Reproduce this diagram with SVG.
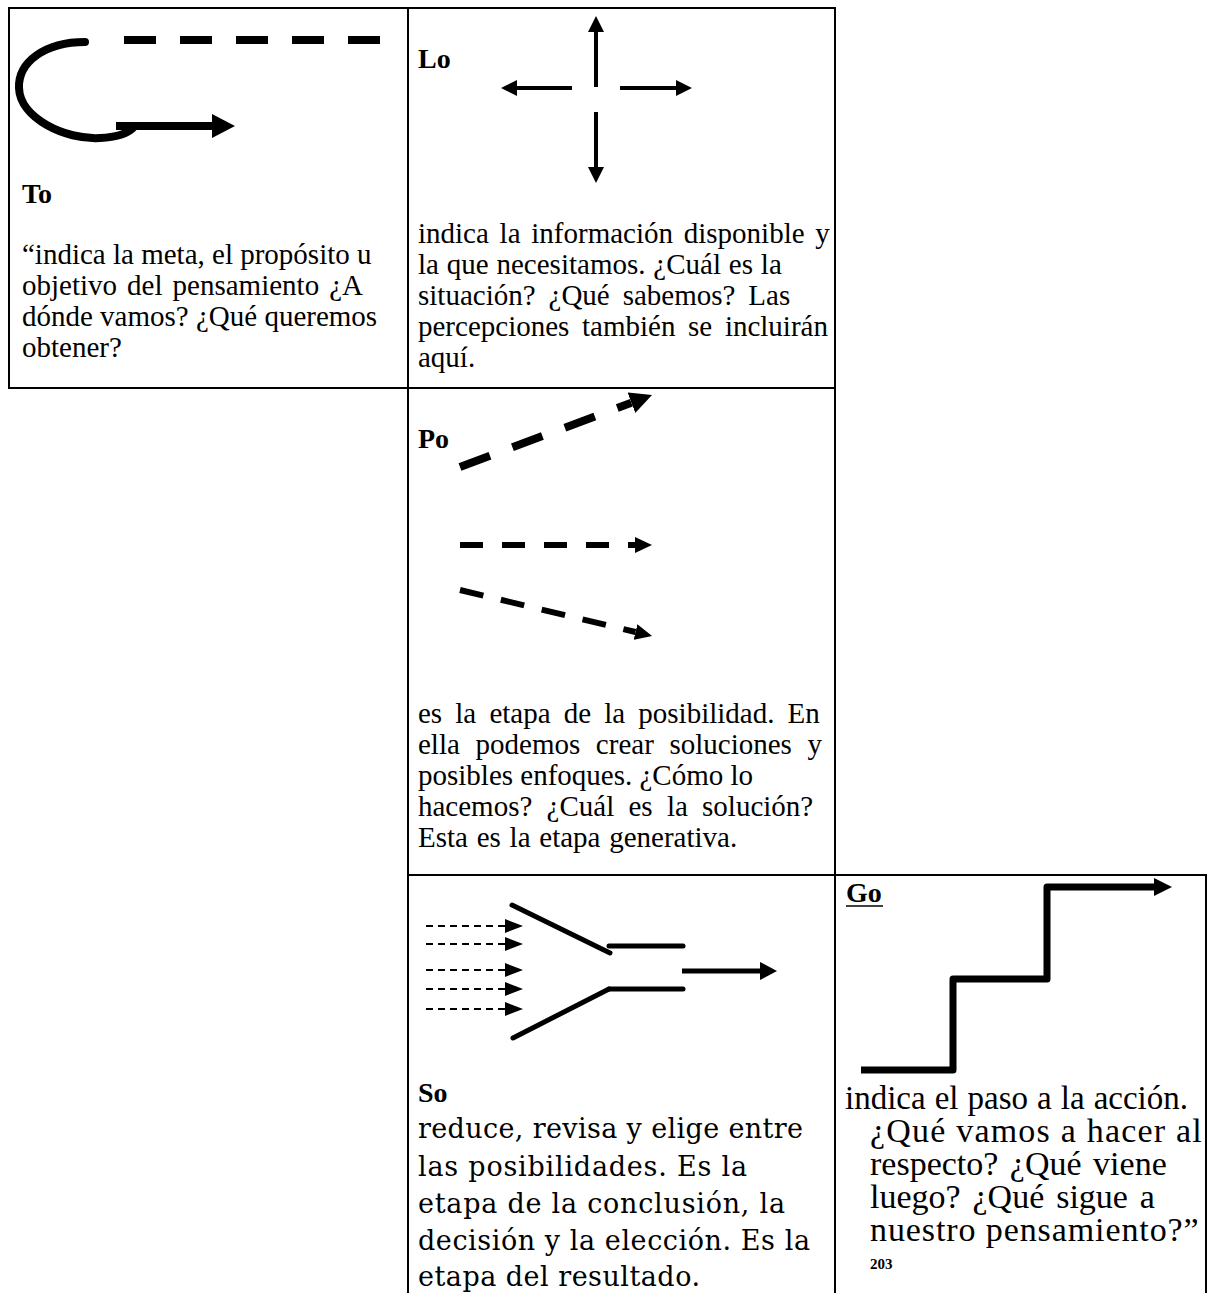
<svg xmlns="http://www.w3.org/2000/svg" width="1207" height="1293" viewBox="0 0 1207 1293">
<style>
.cell{fill:#fff;stroke:#000;stroke-width:2}
.t{font-family:"Liberation Serif","Times New Roman",serif;font-size:29px;fill:#000}
.h{font-family:"Liberation Serif","Times New Roman",serif;font-size:28px;font-weight:bold;fill:#000}
.g{font-family:"Liberation Serif","Times New Roman",serif;font-size:34px;fill:#000}
.s{font-family:"DejaVu Serif",serif;font-size:27px;fill:#000}
.ln{fill:none;stroke:#000}
</style>
<defs>
<marker id="mTo" markerUnits="userSpaceOnUse" viewBox="0 -12 23 24" refX="0" refY="0" markerWidth="23" markerHeight="24" orient="auto"><path d="M0,-12 L23,0 L0,12 Z"/></marker>
<marker id="mLo" markerUnits="userSpaceOnUse" viewBox="0 -8 16 16" refX="0" refY="0" markerWidth="16" markerHeight="16" orient="auto"><path d="M0,-8 L16,0 L0,8 Z"/></marker>
<marker id="mPo1" markerUnits="userSpaceOnUse" viewBox="0 -11 22 22" refX="0" refY="0" markerWidth="22" markerHeight="22" orient="auto"><path d="M0,-11 L22,0 L0,11 Z"/></marker>
<marker id="mPo2" markerUnits="userSpaceOnUse" viewBox="0 -8 17 16" refX="0" refY="0" markerWidth="17" markerHeight="16" orient="auto"><path d="M0,-8 L17,0 L0,8 Z"/></marker>
<marker id="mSo" markerUnits="userSpaceOnUse" viewBox="0 -7 18 14" refX="0" refY="0" markerWidth="18" markerHeight="14" orient="auto"><path d="M0,-7 L18,0 L0,7 Z"/></marker>
<marker id="mSo2" markerUnits="userSpaceOnUse" viewBox="0 -9 17 18" refX="0" refY="0" markerWidth="17" markerHeight="18" orient="auto"><path d="M0,-9 L17,0 L0,9 Z"/></marker>
<marker id="mGo" markerUnits="userSpaceOnUse" viewBox="0 -9 18 18" refX="0" refY="0" markerWidth="18" markerHeight="18" orient="auto"><path d="M0,-9 L18,0 L0,9 Z"/></marker>
</defs>
<rect x="0" y="0" width="1207" height="1293" fill="#fff"/>

<g id="cell-to">
<rect class="cell" x="9" y="8" width="399" height="380"/>
<path class="ln" d="M124,40 H380" stroke-width="8" stroke-dasharray="32 24"/>
<path class="ln" d="M85,42 C45,42 18,62 19,88 C20,118 65,140 100,138 C118,137 128,133 133,128" stroke-width="8" stroke-linecap="round"/>
<path class="ln" d="M116,126 H212" stroke-width="8" marker-end="url(#mTo)"/>
<text class="h" x="22" y="203">To</text>
<text class="t" x="22" y="264">“indica la meta, el propósito u</text>
<text class="t" x="22" y="295" style="word-spacing:2.8px">objetivo del pensamiento ¿A</text>
<text class="t" x="22" y="326">dónde vamos? ¿Qué queremos</text>
<text class="t" x="22" y="357">obtener?</text>
</g>

<g id="cell-lo">
<rect class="cell" x="408" y="8" width="427" height="380"/>
<path class="ln" d="M596,87 V32" stroke-width="4" marker-end="url(#mLo)"/>
<path class="ln" d="M596,112 V167" stroke-width="4" marker-end="url(#mLo)"/>
<path class="ln" d="M572,88 H517" stroke-width="4" marker-end="url(#mLo)"/>
<path class="ln" d="M620,88 H676" stroke-width="4" marker-end="url(#mLo)"/>
<text class="h" x="418" y="68">Lo</text>
<text class="t" x="418" y="243" style="word-spacing:3.5px">indica la información disponible y</text>
<text class="t" x="418" y="274" style="word-spacing:0.6px">la que necesitamos. ¿Cuál es la</text>
<text class="t" x="418" y="305" style="word-spacing:5.7px">situación? ¿Qué sabemos? Las</text>
<text class="t" x="418" y="336" style="word-spacing:5.4px">percepciones también se incluirán</text>
<text class="t" x="418" y="367">aquí.</text>
</g>

<g id="cell-po">
<rect class="cell" x="408" y="388" width="427" height="487"/>
<path class="ln" d="M460,467 L631.4,402.7" stroke-width="8" stroke-dasharray="32 24" marker-end="url(#mPo1)"/>
<path class="ln" d="M460,545 H635" stroke-width="6" stroke-dasharray="23 19" marker-end="url(#mPo2)"/>
<path class="ln" d="M460,590 L635.5,632" stroke-width="6" stroke-dasharray="24 18" marker-end="url(#mPo2)"/>
<text class="h" x="418" y="448">Po</text>
<text class="t" x="418" y="723" style="word-spacing:5.9px">es la etapa de la posibilidad. En</text>
<text class="t" x="418" y="754" style="word-spacing:8.4px">ella podemos crear soluciones y</text>
<text class="t" x="418" y="785">posibles enfoques. ¿Cómo lo</text>
<text class="t" x="418" y="816" style="word-spacing:7px">hacemos? ¿Cuál es la solución?</text>
<text class="t" x="418" y="847" style="word-spacing:1.5px">Esta es la etapa generativa.</text>
</g>

<g id="cell-so">
<rect class="cell" x="408" y="875" width="427" height="430"/>
<g class="ln" stroke-width="2" stroke-dasharray="7 5">
<path d="M426,926 H505" marker-end="url(#mSo)"/>
<path d="M426,944 H505" marker-end="url(#mSo)"/>
<path d="M426,970 H505" marker-end="url(#mSo)"/>
<path d="M426,989 H505" marker-end="url(#mSo)"/>
<path d="M426,1009 H505" marker-end="url(#mSo)"/>
</g>
<g class="ln" stroke-width="5" stroke-linecap="round">
<path d="M512,905 L610,953"/>
<path d="M609,946 H683"/>
<path d="M609,989 H683"/>
<path d="M609,989 L513,1038"/>
</g>
<path class="ln" d="M682,971 H760" stroke-width="5" marker-end="url(#mSo2)"/>
<text class="h" x="418" y="1102">So</text>
<text class="s" x="418" y="1138" textLength="385">reduce, revisa y elige entre</text>
<text class="s" x="418" y="1176" textLength="329">las posibilidades. Es la</text>
<text class="s" x="418" y="1213" textLength="367">etapa de la conclusión, la</text>
<text class="s" x="418" y="1250" textLength="392">decisión y la elección. Es la</text>
<text class="s" x="418" y="1286" textLength="282">etapa del resultado.</text>
</g>

<g id="cell-go">
<rect class="cell" x="835" y="875" width="371" height="430"/>
<path class="ln" d="M861,1070 H953 V979 H1047 V887 H1154" stroke-width="7" stroke-linejoin="round" marker-end="url(#mGo)"/>
<text class="h" x="846" y="902">Go</text>
<line x1="846" y1="906" x2="883" y2="906" stroke="#000" stroke-width="1.5"/>
<text class="g" x="845" y="1109" style="font-size:33px;word-spacing:0.8px">indica el paso a la acción.</text>
<text class="g" x="870" y="1142" style="letter-spacing:1.2px">¿Qué vamos a hacer al</text>
<text class="g" x="870" y="1175" style="word-spacing:3px">respecto? ¿Qué viene</text>
<text class="g" x="870" y="1208" style="word-spacing:3.4px">luego? ¿Qué sigue a</text>
<text class="g" x="870" y="1241" style="letter-spacing:0.9px">nuestro pensamiento?”</text>
<text class="h" x="870" y="1269" style="font-size:15px">203</text>
</g>

<g id="connectors"/>
</svg>
